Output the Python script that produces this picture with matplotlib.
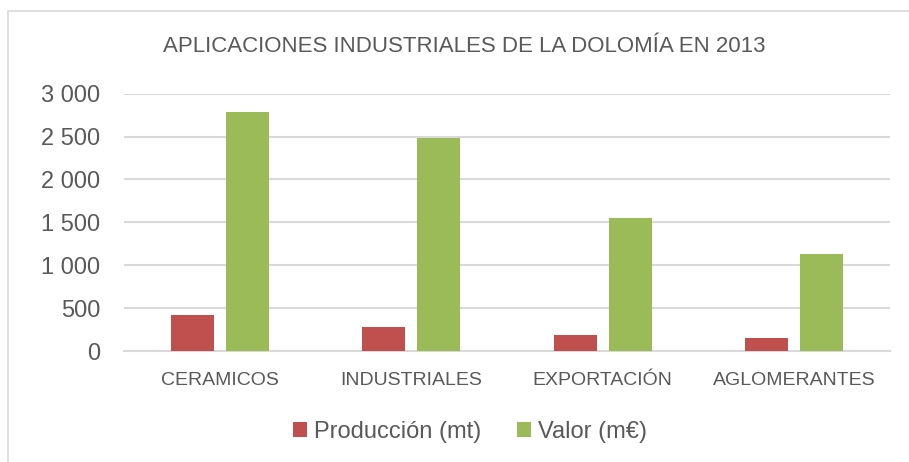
import matplotlib
matplotlib.use("Agg")
import matplotlib.pyplot as plt
from matplotlib.ticker import FuncFormatter
from matplotlib.patches import Rectangle
import numpy as np

# data
categorias = ["CERAMICOS", "INDUSTRIALES", "EXPORTACIÓN", "AGLOMERANTES"]
produccion = [416, 276, 184, 152]
valor = [2786, 2483, 1554, 1131]
series = ["Producción (mt)", "Valor (m€)"]

rojo = "#c0504d"
verde = "#9bbb59"
gris = "#595959"

plt.rcParams['font.family'] = ['Liberation Sans', 'DejaVu Sans']

fig = plt.figure(figsize=(9.09, 4.62), dpi=100)
W, H = 909, 462
ax = fig.add_axes([124 / W, (H - 351) / H, 766 / W, (351 - 93.7) / H])

x = np.arange(len(categorias))
ancho = 0.224
off = 0.1436
ax.bar(x - off, produccion, ancho, color=rojo, label=series[0], zorder=3)
ax.bar(x + off, valor, ancho, color=verde, label=series[1], zorder=3)

ax.set_xlim(-0.5, len(categorias) - 0.5)
ax.set_ylim(0, 3000)
ax.set_yticks(range(0, 3001, 500))
ax.yaxis.set_major_formatter(FuncFormatter(lambda v, p: f"{int(v):,}".replace(",", " ")))
ax.grid(axis="y", color="#d9d9d9", linewidth=1.5, zorder=0)
for s in ["top", "right", "left"]:
    ax.spines[s].set_visible(False)
ax.spines["bottom"].set_color("#d9d9d9")
ax.spines["bottom"].set_linewidth(1.5)
ax.tick_params(axis="y", length=0, labelsize=17, labelcolor=gris, pad=17)
ax.tick_params(axis="x", length=0, labelcolor=gris, pad=15)
ax.set_xticks(x)
ax.set_xticklabels(categorias, fontsize=14)

fig.text(464 / W, 1 - 47 / H, "APLICACIONES INDUSTRIALES DE LA DOLOMÍA EN 2013",
         ha="center", va="center", fontsize=16, color=gris)

leg = fig.legend(loc="center", bbox_to_anchor=(470 / W, 1 - 432 / H), ncol=2,
                 frameon=False, fontsize=17, handlelength=0.6, handleheight=0.6,
                 handletextpad=0.3, columnspacing=1.5, labelcolor=gris)

# chart border
fig.patches.append(Rectangle((8 / W, -0.1), 1.2, (1 - 11 / H) + 0.1, transform=fig.transFigure,
                             fill=False, edgecolor="#d9d9d9", linewidth=1.2))

fig.savefig("out.png", dpi=100)
